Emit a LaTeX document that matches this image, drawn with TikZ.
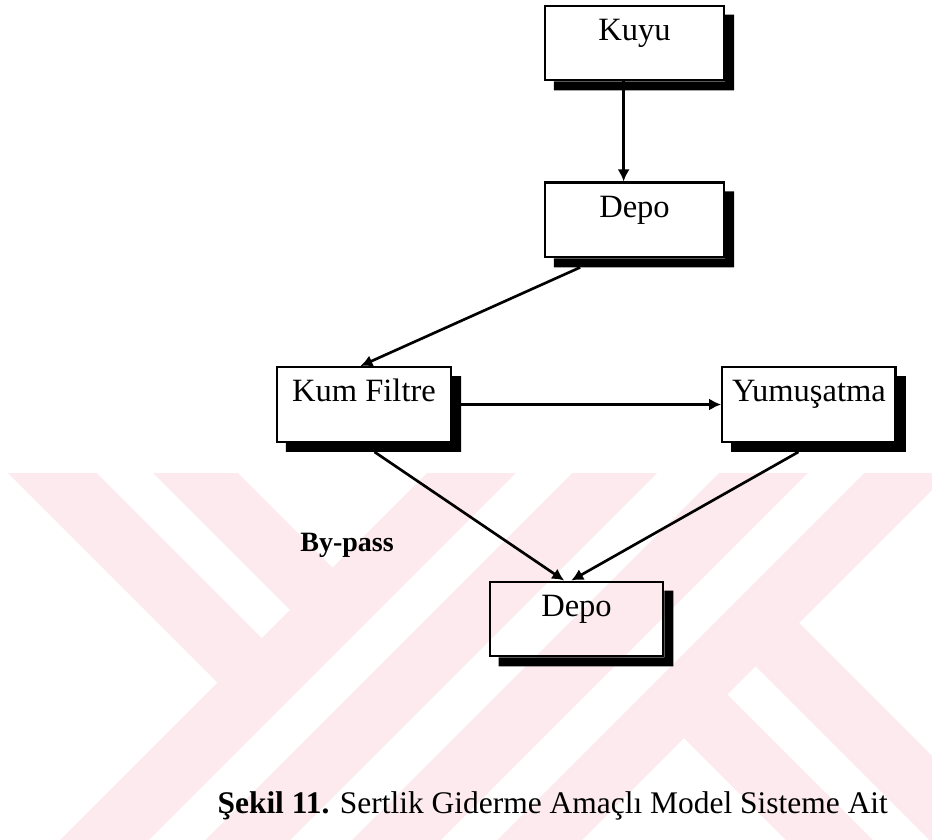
\documentclass[tikz,border=0pt]{standalone}
\usepackage{fontspec}
\setmainfont{Liberation Serif}
\usepackage{tikz}
\usetikzlibrary{calc}
\usetikzlibrary{arrows.meta}
\usetikzlibrary{positioning}
\definecolor{filigran}{RGB}{252,234,238}
\tikzset{
    blok/.style={
           rectangle,
           draw=black, line width=0.85pt,
           inner xsep=0pt, inner ysep=0pt,
           text height=13pt, text depth=15pt,
           font=\fontsize{12.2}{14}\selectfont,
           text centered,
           },
    ok/.style={-{Latex[length=4.5pt,width=4.5pt]}, line width=1pt},
}

\begin{document}
\begin{tikzpicture}[x=0.375pt,y=-0.375pt]
    \useasboundingbox (0,0) rectangle (932,839);
    % filigran
    \begin{scope}
    \clip (0,473) rectangle (932,839);
    \fill[filigran] (-65,400) -- (165,400) -- (332.5,567.5) -- (217.5,682.5) -- cycle;
    \fill[white] (24,400) -- (80,400) -- (290,610) -- (262,638) -- cycle;
    \fill[filigran] (500,400) -- (730,400) -- (230,900) -- (0,900) -- cycle;
    \fill[white] (589,400) -- (645,400) -- (145,900) -- (89,900) -- cycle;
    \fill[filigran] (792,400) -- (1022,400) -- (522,900) -- (292,900) -- cycle;
    \fill[white] (881,400) -- (937,400) -- (437,900) -- (381,900) -- cycle;
    \fill[filigran] (684,738) -- (799,623) -- (1076,900) -- (846,900) -- cycle;
    \fill[white] (727.5,694.5) -- (755.5,666.5) -- (989,900) -- (933,900) -- cycle;
    \end{scope}

    \node[blok,minimum width=67.1pt] (kuyu) at (634.5,43) {Kuyu};
    \node[blok,minimum width=67.1pt] (depo) [below=37.5pt of kuyu] {Depo};
    \node[blok,minimum width=65.2pt] (kum) at (364,404.5) {Kum Filtre};
    \node[blok,minimum width=65pt] (yum) [right=100.9pt of kum] {Yumuşatma};
    \node[blok,minimum width=65pt] (depob) at (576.5,619) {Depo};

    \foreach \n in {kuyu,depo,kum,yum,depob}
        \fill ($(\n.south west)+(10,0)$) -- (\n.south east) -- ($(\n.north east)+(0,10)$)
            -- ($(\n.north east)+(9,10)$) -- ($(\n.south east)+(9,9)$)
            -- ($(\n.south west)+(10,9)$) -- cycle;

    \draw[ok] ($(kuyu.south west)!0.44!(kuyu.south east)$) -- ($(depo.north west)!0.44!(depo.north east)$);
    \draw[ok] ($(depo.south west)!0.2!(depo.south east)+(0,9)$) -- ($(kum.north west)!0.48!(kum.north east)$);
    \draw[ok] (kum.east) -- (yum.west);
    \draw[ok] ($(kum.south west)!0.56!(kum.south east)+(0,9)$) -- ($(depob.north west)!0.43!(depob.north east)$);
    \draw[ok] ($(yum.south west)!0.44!(yum.south east)+(0,9)$) -- ($(depob.north west)!0.47!(depob.north east)$);

    \node[font=\fontsize{10.5}{12}\selectfont\bfseries] (bypass) at (347,545) {By-pass};
    \node[anchor=base west, inner sep=0pt, font=\fontsize{11.8}{14}\selectfont] (sekil) at (217,813)
        {\textbf{Şekil 11.} Sertlik Giderme Amaçlı Model Sisteme Ait};
\end{tikzpicture}
\end{document}
